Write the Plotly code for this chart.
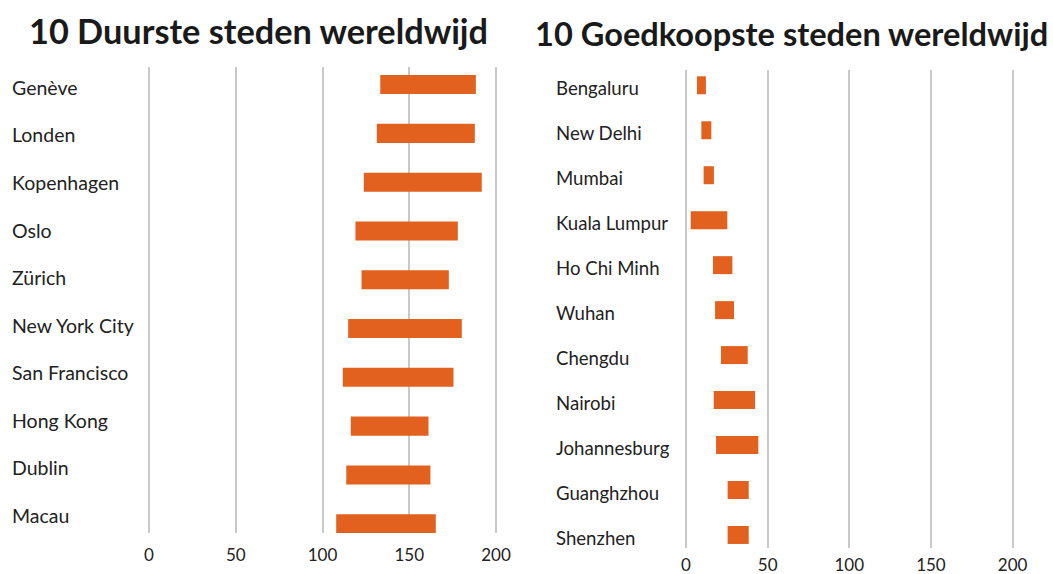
import plotly.graph_objects as go

# Data
duur_steden = ["Genève", "Londen", "Kopenhagen", "Oslo", "Zürich", "New York City",
               "San Francisco", "Hong Kong", "Dublin", "Macau"]
duur_start = [133.3, 131.3, 123.8, 119.0, 122.5, 114.8, 111.7, 116.3, 113.7, 107.9]
duur_eind = [188.4, 187.8, 191.8, 178.0, 172.8, 180.3, 175.5, 161.1, 162.2, 165.3]

goed_steden = ["Bengaluru", "New Delhi", "Mumbai", "Kuala Lumpur", "Ho Chi Minh", "Wuhan",
               "Chengdu", "Nairobi", "Johannesburg", "Guanghzhou", "Shenzhen"]
goed_start = [6.7, 9.4, 10.8, 2.9, 16.5, 17.8, 21.4, 17.0, 18.4, 25.5, 25.5]
goed_eind = [12.2, 15.5, 17.1, 25.3, 28.4, 29.4, 37.8, 42.3, 44.3, 38.4, 38.4]

tick_vals = [0, 50, 100, 150, 200]
titel_links = "10 Duurste steden wereldwijd"
titel_rechts = "10 Goedkoopste steden wereldwijd"

W, H = 1053, 574
ORANGE = "#E2611F"
GRID = "#C8C8C8"
FONT = "Lato"

fig = go.Figure()
fig.add_trace(go.Bar(
    y=duur_steden, x=[e - s for s, e in zip(duur_start, duur_eind)], base=duur_start,
    orientation="h", marker=dict(color=ORANGE, line=dict(width=0)), width=0.39,
    xaxis="x", yaxis="y", showlegend=False, hoverinfo="skip"))
fig.add_trace(go.Bar(
    y=goed_steden, x=[e - s for s, e in zip(goed_start, goed_eind)], base=goed_start,
    orientation="h", marker=dict(color=ORANGE, line=dict(width=0)), width=0.4,
    xaxis="x2", yaxis="y2", showlegend=False, hoverinfo="skip"))

def px_x(p):
    return p / W

def px_y(p):
    return 1 - p / H

l0, l1 = 140, 515
r0, r1 = 680, 1040
axis_common = dict(
    tickvals=tick_vals, showgrid=True, gridcolor=GRID, gridwidth=2, zeroline=False,
    showline=False, ticks="outside", tickcolor="rgba(0,0,0,0)", automargin=False,
    tickfont=dict(family=FONT, size=17, color="#222"), fixedrange=True)
yaxis_common = dict(showticklabels=False, showgrid=False, zeroline=False,
                    fixedrange=True, automargin=False, categoryorder="array")

fig.update_layout(
    width=W, height=H, margin=dict(l=0, r=0, t=0, b=0, autoexpand=False),
    template="none",
    paper_bgcolor="white", plot_bgcolor="white", barmode="overlay",
    xaxis=dict(domain=[px_x(l0), px_x(l1)],
               range=[(l0 - 149) / 1.735, (l1 - 149) / 1.735],
               anchor="y", ticklen=7, **axis_common),
    yaxis=dict(domain=[px_y(533), px_y(67)], anchor="x",
               categoryarray=duur_steden, range=[9.19, -0.36], **yaxis_common),
    xaxis2=dict(domain=[px_x(r0), px_x(r1)],
                range=[(r0 - 686) / 1.633, (r1 - 686) / 1.633],
                anchor="y2", ticklen=2, **axis_common),
    yaxis2=dict(domain=[px_y(548), px_y(70)], anchor="x2",
                categoryarray=goed_steden, range=[10.29, -0.34], **yaxis_common),
)

annotations = []
for i, s in enumerate(duur_steden):
    annotations.append(dict(x=10 / W, xref="paper", y=px_y(87.5 + 47.5 * i), yref="paper",
                            text=s, showarrow=False, xanchor="left", yanchor="middle",
                            font=dict(family=FONT, size=19.5, color="#222")))
for i, s in enumerate(goed_steden):
    annotations.append(dict(x=554 / W, xref="paper", y=px_y(88.3 + 45.0 * i), yref="paper",
                            text=s, showarrow=False, xanchor="left", yanchor="middle",
                            font=dict(family=FONT, size=18.6, color="#222")))
annotations.append(dict(x=258.5 / W, xref="paper", y=px_y(30), yref="paper",
                        text="<b>" + titel_links + "</b>", showarrow=False,
                        xanchor="center", yanchor="middle",
                        font=dict(family=FONT, size=34.3, color="#1a1a1a")))
annotations.append(dict(x=791.5 / W, xref="paper", y=px_y(34), yref="paper",
                        text="<b>" + titel_rechts + "</b>", showarrow=False,
                        xanchor="center", yanchor="middle",
                        font=dict(family=FONT, size=32.6, color="#1a1a1a")))
fig.update_layout(annotations=annotations)

fig.write_html("out.html")
